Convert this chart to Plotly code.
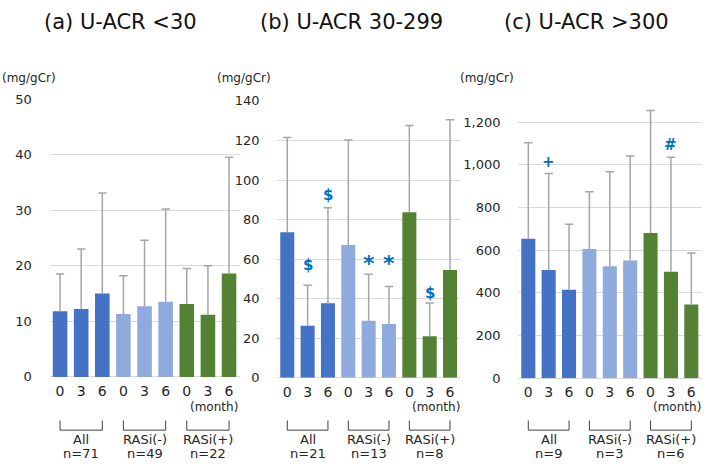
import plotly.graph_objects as go

# ---------------- data ----------------
months = ["0", "3", "6", "0", "3", "6", "0", "3", "6"]
groups = ["All", "RASi(-)", "RASi(+)"]
bar_colors = ["#4472C4"] * 3 + ["#8FAADC"] * 3 + ["#548235"] * 3

titles = ["(a) U-ACR <30", "(b) U-ACR 30-299", "(c) U-ACR >300"]
n_a = ["n=71", "n=49", "n=22"]
n_b = ["n=21", "n=13", "n=8"]
n_c = ["n=9", "n=3", "n=6"]

mean_a = [11.8, 12.2, 15.0, 11.3, 12.7, 13.5, 13.1, 11.2, 18.6]
upper_a = [18.5, 23.0, 33.1, 18.2, 24.6, 30.2, 19.5, 20.0, 39.5]

mean_b = [73.6, 26.4, 37.7, 67.2, 28.9, 27.2, 83.7, 21.0, 54.5]
upper_b = [121.5, 46.8, 86.0, 120.2, 52.4, 46.2, 127.6, 37.8, 130.5]
sig_b = ["", "$", "$", "", "*", "*", "", "$", ""]
sig_b_y = [None, 57, 92.5, None, 58, 58, None, 43, None]

mean_c = [653, 507, 414, 605, 525, 551, 681, 499, 345]
upper_c = [1104, 959, 722, 874, 968, 1041, 1255, 1035, 587]
sig_c = ["", "+", "", "", "", "", "", "#", ""]
sig_c_y = [None, 1012, None, None, None, None, None, 1094, None]

yticks_a = [0, 10, 20, 30, 40, 50]
yticks_b = [0, 20, 40, 60, 80, 100, 120, 140]
yticks_c = [0, 200, 400, 600, 800, 1000, 1200]
yticktext_c = ["0", "200", "400", "600", "800", "1,000", "1,200"]

# ---------------- layout helpers ----------------
W, H = 708, 473
FONT = "DejaVu Sans"
TXT = "#262626"
SIG = "#0070C0"
ERR = "#A6A6A6"
GRID = "#D9D9D9"

def py(p):
    return 1 - p / H

panels = [
    dict(mean=mean_a, upper=upper_a, sig=None, sigy=None, n=n_a, title=titles[0],
         xdom=[49.5 / W, 239.6 / W], ydom=[py(382), py(95)], yr=[0, 50],
         tv=yticks_a, tt=[str(v) for v in yticks_a], tx=120, unitx=29),
    dict(mean=mean_b, upper=upper_b, sig=sig_b, sigy=sig_b_y, n=n_b, title=titles[1],
         xdom=[277.1 / W, 460.2 / W], ydom=[py(383), py(97)], yr=[0, 140],
         tv=yticks_b, tt=[str(v) for v in yticks_b], tx=351, unitx=244),
    dict(mean=mean_c, upper=upper_c, sig=sig_c, sigy=sig_c_y, n=n_c, title=titles[2],
         xdom=[518.1 / W, 701.5 / W], ydom=[py(383.3), py(74.9)], yr=[0, 1400],
         tv=yticks_c, tt=yticktext_c, tx=586, unitx=487),
]

fig = go.Figure()
annotations = []
shapes = []
xs = list(range(len(months)))

for k, p in enumerate(panels):
    sfx = "" if k == 0 else str(k + 1)
    xa, ya = "x" + sfx, "y" + sfx
    err_plus = [u - m for u, m in zip(p["upper"], p["mean"])]
    fig.add_trace(go.Bar(
        x=xs, y=p["mean"], marker=dict(color=bar_colors, line=dict(width=0)),
        error_y=dict(type="data", symmetric=False, array=err_plus,
                     arrayminus=[0] * len(xs), color=ERR, thickness=1.5, width=0),
        xaxis=xa, yaxis=ya, showlegend=False, hoverinfo="y"))
    # caps of the error bars
    fig.add_trace(go.Scatter(
        x=xs, y=p["upper"], mode="markers",
        marker=dict(symbol="line-ew", size=6, line=dict(color=ERR, width=1.5)),
        xaxis=xa, yaxis=ya, showlegend=False, hoverinfo="skip"))

    fig.update_layout(**{
        ("xaxis" + sfx): dict(domain=p["xdom"], range=[-0.5, len(xs) - 0.5],
                              tickvals=xs, ticktext=months, showgrid=False,
                              zeroline=False, showline=False, ticks="outside",
                              ticklen=1, tickcolor="rgba(0,0,0,0)",
                              tickfont=dict(size=14, color=TXT, family=FONT),
                              anchor=ya, fixedrange=True),
        ("yaxis" + sfx): dict(domain=p["ydom"], range=p["yr"], tickvals=p["tv"],
                              ticktext=p["tt"], showgrid=True, gridcolor=GRID,
                              gridwidth=1, zeroline=True, zerolinecolor=GRID,
                              zerolinewidth=1, showline=False, ticks="outside",
                              ticklen=14, tickcolor="rgba(0,0,0,0)",
                              tickfont=dict(size=13, color=TXT, family=FONT),
                              anchor=xa, fixedrange=True),
    })

    # title
    annotations.append(dict(text=p["title"], x=p["tx"] / W, y=py(15), xref="paper",
                            yref="paper", showarrow=False, xanchor="center",
                            yanchor="middle", font=dict(size=21, color="#111", family=FONT)))
    # unit label
    annotations.append(dict(text="(mg/gCr)", x=p["unitx"] / W, y=py(73), xref="paper",
                            yref="paper", showarrow=False, xanchor="center",
                            yanchor="middle", font=dict(size=12, color=TXT, family=FONT)))
    # (month)
    annotations.append(dict(text="(month)", x=7.3, y=py(413), xref=xa, yref="paper",
                            showarrow=False, xanchor="center", yanchor="middle",
                            font=dict(size=12, color=TXT, family=FONT)))
    # significance marks
    if p["sig"]:
        for i, (s, yv) in enumerate(zip(p["sig"], p["sigy"])):
            if s:
                big = s == "*"
                annotations.append(dict(text="<b>%s</b>" % s, x=i, y=yv, xref=xa, yref=ya,
                                        showarrow=False, xanchor="center", yanchor="middle",
                                        font=dict(size=22 if big else 15, color=SIG, family=FONT)))
    # group brackets and labels
    for g in range(3):
        x0, x1 = 3 * g, 3 * g + 2
        shapes.append(dict(type="path", xref=xa, yref="paper",
                           path="M %f,%f L %f,%f L %f,%f L %f,%f" % (
                               x0, py(427), x0, py(437), x1, py(437), x1, py(427)),
                           line=dict(color="#404040", width=1)))
        annotations.append(dict(text=groups[g], x=x0 + 1, y=py(447), xref=xa, yref="paper",
                                showarrow=False, xanchor="center", yanchor="middle",
                                font=dict(size=13, color=TXT, family=FONT)))
        annotations.append(dict(text=p["n"][g], x=x0 + 1, y=py(461), xref=xa, yref="paper",
                                showarrow=False, xanchor="center", yanchor="middle",
                                font=dict(size=13, color=TXT, family=FONT)))

fig.update_layout(
    width=W, height=H, margin=dict(l=0, r=0, t=0, b=0),
    paper_bgcolor="white", plot_bgcolor="white",
    bargap=0.31, annotations=annotations, shapes=shapes,
    font=dict(family=FONT, color=TXT),
)

fig.write_html(
    "out.html",
    config={"displayModeBar": False},
    post_script="document.body.style.margin='0';document.body.style.overflow='hidden';",
)
